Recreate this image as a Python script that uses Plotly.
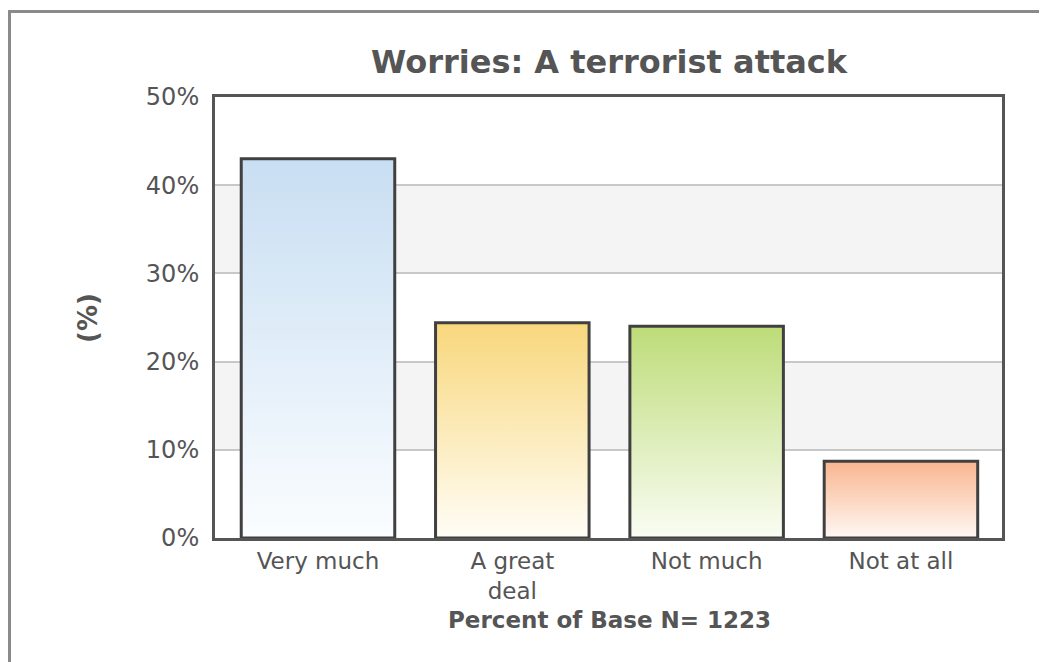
import plotly.graph_objects as go

categories = ["Very much", "A great<br>deal", "Not much", "Not at all"]
values = [43.0, 24.4, 24.0, 8.7]
top_colors = ["#c8def2", "#f8d77c", "#bddc78", "#f9b58f"]
bottom_colors = ["#fbfdff", "#fffdf6", "#fafdf4", "#fff8f4"]
y_ticks = [0, 10, 20, 30, 40, 50]
y_tick_labels = ["0%", "10%", "20%", "30%", "40%", "50%"]
title_text = "Worries: A terrorist attack"
x_title = "Percent of Base N= 1223"
y_title = "(%)"

bar_width = 0.79
FONT = "DejaVu Sans, Verdana, sans-serif"
TXT = "#555555"

fig = go.Figure()

# bars (data carrier, drawn beneath)
fig.add_trace(go.Bar(
    x=list(range(len(values))), y=values, width=bar_width,
    marker=dict(color=top_colors, line=dict(width=0)),
    showlegend=False, hoverinfo="skip",
))

# gradient fills with outlines on top
for i, (v, tc, bc) in enumerate(zip(values, top_colors, bottom_colors)):
    x0, x1 = i - bar_width / 2, i + bar_width / 2
    fig.add_trace(go.Scatter(
        x=[x0, x0, x1, x1, x0], y=[0, v, v, 0, 0],
        mode="lines", fill="toself",
        line=dict(width=3, color="#404040"),
        fillgradient=dict(type="vertical", colorscale=[[0, bc], [1, tc]]),
        hoverinfo="skip", showlegend=False,
    ))

# alternating bands
for lo, hi in [(10, 20), (30, 40)]:
    fig.add_shape(type="rect", xref="paper", yref="y", x0=0, x1=1, y0=lo, y1=hi,
                  fillcolor="#f4f4f4", line=dict(width=0), layer="below")

OFF = 8  # page body margin
PL, PR, PT, PB = 215, 1002, 97, 538  # target plot box in screen pixels
L, T = PL - OFF, PT - OFF
R = 1047 + OFF - PR
B = 662 + OFF - PB
W, H = PR - PL, PB - PT


def px_x(px):
    return (px - PL) / W


def px_y(py):
    return (PB - py) / H


# outer frame lines (left and top)
fig.add_shape(type="line", xref="paper", yref="paper",
              x0=px_x(9.5), x1=px_x(9.5), y0=px_y(10), y1=px_y(700),
              line=dict(color="#8a8a8a", width=3))
fig.add_shape(type="line", xref="paper", yref="paper",
              x0=px_x(8), x1=px_x(1060), y0=px_y(11.5), y1=px_y(11.5),
              line=dict(color="#8a8a8a", width=3))

fig.add_annotation(text=f"<b>{title_text}</b>", xref="paper", yref="paper",
                   x=px_x(609), y=px_y(62), xanchor="center", yanchor="middle",
                   showarrow=False, font=dict(family=FONT, size=32, color=TXT))
fig.add_annotation(text=f"<b>{x_title}</b>", xref="paper", yref="paper",
                   x=px_x(609), y=px_y(620), xanchor="center", yanchor="middle",
                   showarrow=False, font=dict(family=FONT, size=23, color=TXT))
fig.add_annotation(text=f"<b>{y_title}</b>", xref="paper", yref="paper",
                   x=px_x(88), y=px_y(318), xanchor="center", yanchor="middle",
                   textangle=-90, showarrow=False, font=dict(family=FONT, size=26, color=TXT))

fig.update_layout(
    width=1047, height=662,
    margin=dict(l=L, r=R, t=T, b=B),
    paper_bgcolor="white", plot_bgcolor="white",
    font=dict(family=FONT, color=TXT),
    xaxis=dict(
        range=[-0.53, 3.52], tickmode="array",
        tickvals=list(range(len(categories))), ticktext=categories,
        showgrid=False, zeroline=False,
        showline=True, mirror=True, linecolor="#555555", linewidth=3,
        tickfont=dict(family=FONT, size=23, color=TXT), ticks="",
        fixedrange=True,
    ),
    yaxis=dict(
        range=[0, 50], tickmode="array", tickvals=y_ticks, ticktext=y_tick_labels,
        showgrid=True, gridcolor="#c8c8c8", gridwidth=2, zeroline=False,
        showline=True, mirror=True, linecolor="#555555", linewidth=3,
        tickfont=dict(family=FONT, size=24, color=TXT), ticks="",
        ticklabelstandoff=8, fixedrange=True,
    ),
    bargap=0,
)

fig.write_html("out.html")
